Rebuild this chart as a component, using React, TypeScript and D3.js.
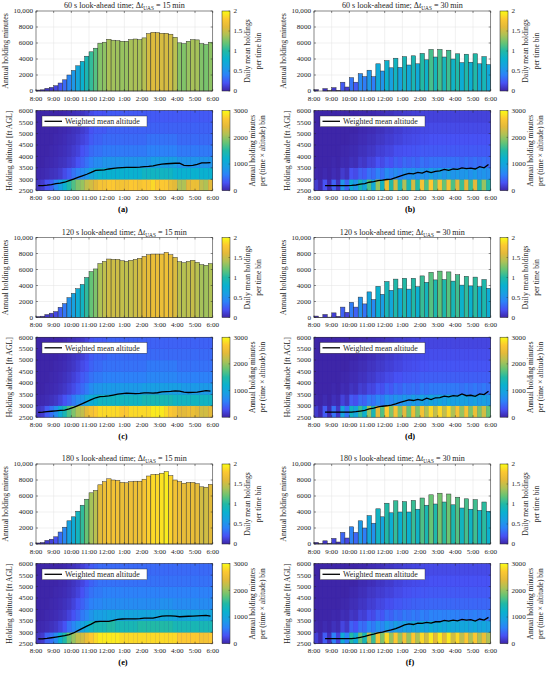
import * as d3 from 'd3';

// ---- shared axes values ----
const HOUR_LABELS = ['8:00', '9:00', '10:00', '11:00', '12:00', '1:00', '2:00', '3:00', '4:00', '5:00', '6:00'];
const BAR_TICKS = [0, 2000, 4000, 6000, 8000, 10000];
const ALT_TICKS = [2500, 3000, 3500, 4000, 4500, 5000, 5500, 6000];
const ALT_BINS = [2500, 3000, 3500, 4000, 4500, 5000, 5500];
const CB_BAR_TICKS = [0, 0.5, 1, 1.5, 2];
const CB_HEAT_TICKS = [0, 1000, 2000, 3000];
const HEAT_UNIT = 100; // heat arrays are in hundreds of minutes

// ---- annual holding minutes per 15 min bin ----
const BARS_A = [120, 150, 330, 450, 660, 1000, 1400, 2000, 2570, 3150, 3700, 4350, 4900, 5350, 5980, 6100, 6470, 6350, 6300, 6220, 6220, 6430, 6500, 6430, 6640, 7180, 7340, 7300, 7220, 7220, 7100, 6720, 6020, 5930, 6220, 6430, 6390, 5930, 5810, 6100];
const BARS_B = [170, 0, 300, 30, 420, 80, 1100, 500, 1670, 1100, 2170, 1800, 2600, 1800, 3400, 2500, 3800, 2900, 4100, 2950, 4300, 3250, 4400, 3400, 4700, 3900, 5200, 4250, 5200, 4250, 5100, 4000, 4650, 3550, 4600, 3600, 4650, 3400, 4300, 3300];
const BARS_C = [120, 165, 370, 540, 740, 1280, 1740, 2480, 3020, 3600, 4130, 5000, 5740, 6070, 6740, 7020, 7310, 7270, 7270, 7100, 7020, 7150, 7270, 7400, 7640, 7850, 7930, 7930, 7930, 8140, 7850, 7520, 6980, 6860, 7020, 7150, 6900, 6610, 6530, 6740];
const BARS_D = [180, 30, 380, 50, 580, 150, 1300, 650, 1900, 1300, 2550, 1700, 3200, 2250, 3900, 2900, 4500, 3400, 4800, 3600, 4900, 3550, 4900, 3850, 5200, 4400, 5650, 4700, 5800, 4750, 5700, 4550, 5350, 4050, 5150, 3950, 5050, 3850, 4750, 3650];
const BARS_E = [130, 180, 450, 600, 900, 1500, 2100, 2900, 3400, 4100, 4850, 5600, 6400, 6700, 7400, 7800, 8150, 8000, 7950, 7700, 7650, 7800, 7850, 7850, 8100, 8500, 8700, 8700, 8850, 9050, 8550, 8000, 7800, 7600, 7700, 7700, 7550, 7150, 7100, 7450];
const BARS_F = [200, 30, 400, 80, 700, 250, 1450, 750, 2150, 1450, 2900, 2000, 3550, 2600, 4400, 3400, 5100, 3900, 5400, 4000, 5300, 4000, 5450, 4350, 5750, 4850, 6150, 5000, 6350, 5250, 6250, 4900, 5850, 4500, 5650, 4350, 5550, 4200, 5250, 4100];

// annual minutes that correspond to one daily mean holding (bar colour)
const MIN_PER_HOLDING = [4650, 4700, 4800, 4900, 4650, 5100];

// ---- heat maps: rows from 2500 ft upwards, 40 time bins ----
const HEAT_A = [
  [1, 1.5, 3, 4, 6.5, 9, 12, 15, 17, 19, 20, 22, 23, 24, 26, 26, 27, 27, 26, 26, 26, 27, 27, 26, 27, 27, 28, 27, 27, 27, 25, 24, 21, 21, 24, 25, 25, 22, 21, 24],
  [0.2, 0.3, 0.5, 0.8, 1, 1.5, 2.5, 3.5, 5, 6, 7, 8, 10, 11, 12, 12, 12, 12, 12, 12, 12, 12, 12, 12, 13, 13, 13, 13, 13, 13, 13, 12, 12, 12, 12, 12, 12, 12, 12, 12],
  [0, 0, 0.2, 0.3, 0.5, 0.8, 1, 1.5, 2, 3, 4, 5, 6, 7, 7, 8, 8, 8, 8, 8, 8, 8, 8, 8, 8, 8, 9, 9, 9, 9, 9, 9, 8, 8, 8, 8, 8, 8, 8, 8],
  [0, 0, 0, 0.2, 0.3, 0.5, 0.7, 1, 1.5, 2, 3, 3.5, 4.5, 5, 5, 5.5, 5.5, 5.5, 5.5, 5.5, 5.5, 5.5, 5.5, 5.5, 5.5, 6, 6, 6, 6, 6, 6, 6, 5.5, 5.5, 5.5, 5.5, 5.5, 5.5, 5.5, 5.5],
  [0, 0, 0, 0, 0.2, 0.3, 0.5, 0.8, 1, 1.5, 2, 2.5, 3.5, 4, 4, 4.5, 4.5, 4.5, 4.5, 4.5, 4.5, 4.5, 4.5, 4.5, 4.5, 5, 5, 5, 5, 5, 5, 5, 4.5, 4.5, 4.5, 4.5, 4.5, 4.5, 4.5, 4.5],
  [0, 0, 0, 0, 0, 0.2, 0.3, 0.5, 0.8, 1, 1.5, 2, 3, 3.5, 3.5, 3.5, 4, 4, 4, 4, 4, 4, 4, 4, 4, 4, 4, 4, 4, 4, 4, 4, 4, 4, 4, 4, 4, 4, 4, 4],
  [0, 0, 0, 0, 0, 0, 0.2, 0.4, 0.6, 0.8, 1, 1.5, 2.5, 3, 3, 3, 3.5, 3.5, 3.5, 3.5, 3.5, 3.5, 3.5, 3.5, 3.5, 3.5, 3.5, 3.5, 3.5, 3.5, 3.5, 3.5, 3.5, 3.5, 3.5, 3.5, 3.5, 3.5, 3.5, 3.5],
];
const HEAT_B = [
  [1.5, 0.2, 3, 0.3, 4, 0.8, 8, 4, 11, 8, 14, 10, 17, 11, 20, 13, 25, 15, 23, 14, 21, 14, 23, 15, 26, 17, 27, 18, 26, 18, 26, 17, 24, 16, 24, 16, 24, 15, 20, 15],
  [0.2, 0, 0.3, 0, 0.5, 0.2, 1.5, 0.8, 3, 2.5, 4, 3.5, 5, 4.5, 6, 5, 7, 6, 7, 6, 7.5, 7, 8, 7, 8, 7.5, 9, 8, 9, 8, 9, 8, 8.5, 8, 8.5, 7.5, 8.5, 7.5, 8, 7.5],
  [0, 0, 0, 0, 0.2, 0, 0.4, 0.3, 0.8, 0.6, 1.5, 1.2, 2, 2, 3, 2.5, 3.5, 3, 4, 3.5, 4.5, 4, 4.5, 4, 5, 4.5, 5, 5, 5, 5, 5, 5, 5, 4.5, 5, 4.5, 5, 4.5, 5, 4.5],
  [0, 0, 0, 0, 0, 0, 0.2, 0.2, 0.4, 0.4, 0.8, 0.8, 1.2, 1.2, 1.8, 1.8, 2.2, 2.2, 2.8, 2.8, 3, 3, 3.2, 3.2, 3.5, 3.5, 3.5, 3.5, 3.5, 3.5, 3.5, 3.5, 3.5, 3.5, 3.5, 3.5, 3.5, 3.5, 3.5, 3.5],
  [0, 0, 0, 0, 0, 0, 0, 0, 0.2, 0.2, 0.5, 0.5, 0.8, 0.8, 1.2, 1.2, 1.6, 1.6, 2, 2, 2.4, 2.4, 2.6, 2.6, 2.8, 2.8, 3, 3, 3, 3, 3, 3, 3, 3, 3, 3, 3, 3, 3, 3],
  [0, 0, 0, 0, 0, 0, 0, 0, 0, 0, 0.3, 0.3, 0.5, 0.5, 0.8, 0.8, 1.2, 1.2, 1.6, 1.6, 2, 2, 2.2, 2.2, 2.4, 2.4, 2.5, 2.5, 2.5, 2.5, 2.5, 2.5, 2.5, 2.5, 2.5, 2.5, 2.5, 2.5, 2.5, 2.5],
  [0, 0, 0, 0, 0, 0, 0, 0, 0, 0, 0.2, 0.2, 0.3, 0.3, 0.5, 0.5, 0.8, 0.8, 1.2, 1.2, 1.5, 1.5, 1.8, 1.8, 2, 2, 2, 2, 2, 2, 2, 2, 2, 2, 2, 2, 2, 2, 2, 2],
];
const HEAT_C = [
  [1, 1.5, 3.5, 5, 7, 11, 14, 17, 19, 21, 22, 24, 26, 27, 28, 28, 28, 28, 28, 27, 27, 28, 28, 28, 28, 28, 29, 29, 29, 28, 27, 26, 24, 24, 25, 25, 24, 23, 23, 24],
  [0.2, 0.3, 0.5, 0.8, 1.2, 2, 3, 4, 5.5, 7, 8, 10, 11, 12, 13, 13, 13, 13, 13, 13, 13, 13, 13, 13, 14, 14, 14, 14, 14, 14, 14, 13, 13, 13, 13, 13, 13, 13, 13, 13],
  [0, 0, 0.2, 0.3, 0.5, 0.8, 1.2, 1.8, 2.5, 3.5, 4.5, 5.5, 7, 8, 8, 8.5, 8.5, 8.5, 8.5, 8.5, 8.5, 8.5, 8.5, 8.5, 9, 9, 9, 9, 9, 9, 9, 9, 9, 8.5, 8.5, 8.5, 8.5, 8.5, 8.5, 8.5],
  [0, 0, 0, 0.2, 0.3, 0.5, 0.8, 1.2, 1.8, 2.5, 3.5, 4, 5, 5.5, 5.5, 6, 6, 6, 6, 6, 6, 6, 6, 6, 6, 6.5, 6.5, 6.5, 6.5, 6.5, 6.5, 6.5, 6, 6, 6, 6, 6, 6, 6, 6],
  [0, 0, 0, 0, 0.2, 0.3, 0.5, 0.8, 1.2, 1.8, 2.5, 3, 4, 4.5, 4.5, 5, 5, 5, 5, 5, 5, 5, 5, 5, 5, 5.5, 5.5, 5.5, 5.5, 5.5, 5.5, 5.5, 5, 5, 5, 5, 5, 5, 5, 5],
  [0, 0, 0, 0, 0, 0.2, 0.3, 0.6, 1, 1.3, 1.8, 2.5, 3.5, 4, 4, 4, 4.5, 4.5, 4.5, 4.5, 4.5, 4.5, 4.5, 4.5, 4.5, 4.5, 4.5, 4.5, 4.5, 4.5, 4.5, 4.5, 4.5, 4.5, 4.5, 4.5, 4.5, 4.5, 4.5, 4.5],
  [0, 0, 0, 0, 0, 0, 0.2, 0.5, 0.7, 1, 1.3, 2, 3, 3.5, 3.5, 3.5, 4, 4, 4, 4, 4, 4, 4, 4, 4, 4, 4, 4, 4, 4, 4, 4, 4, 4, 4, 4, 4, 4, 4, 4],
];
const HEAT_D = [
  [1.5, 0.2, 3.5, 0.4, 5, 1.2, 10, 5, 13, 10, 16, 12, 20, 14, 24, 17, 27, 19, 26, 19, 24, 18, 25, 19, 26, 21, 28, 22, 28, 22, 28, 21, 26, 20, 26, 19, 25, 19, 23, 18],
  [0.2, 0, 0.4, 0, 0.7, 0.3, 2, 1, 3.5, 2.8, 4.5, 4, 5.5, 5, 6.5, 5.5, 7.5, 6.5, 8, 7, 8.5, 7.5, 9, 8, 9.5, 8.5, 10, 9, 10, 9, 10, 9, 9.5, 9, 9.5, 8.5, 9.5, 8.5, 9, 8.5],
  [0, 0, 0, 0, 0.2, 0, 0.5, 0.3, 1, 0.7, 1.7, 1.4, 2.3, 2.2, 3.3, 2.8, 4, 3.4, 4.5, 4, 5, 4.5, 5, 4.5, 5.5, 5, 5.5, 5.5, 5.5, 5.5, 5.5, 5.5, 5.5, 5, 5.5, 5, 5.5, 5, 5.5, 5],
  [0, 0, 0, 0, 0, 0, 0.2, 0.2, 0.5, 0.5, 0.9, 0.9, 1.4, 1.4, 2, 2, 2.5, 2.5, 3, 3, 3.3, 3.3, 3.5, 3.5, 3.8, 3.8, 3.8, 3.8, 3.8, 3.8, 3.8, 3.8, 3.8, 3.8, 3.8, 3.8, 3.8, 3.8, 3.8, 3.8],
  [0, 0, 0, 0, 0, 0, 0, 0, 0.3, 0.3, 0.6, 0.6, 1, 1, 1.4, 1.4, 1.8, 1.8, 2.2, 2.2, 2.6, 2.6, 2.8, 2.8, 3, 3, 3.2, 3.2, 3.2, 3.2, 3.2, 3.2, 3.2, 3.2, 3.2, 3.2, 3.2, 3.2, 3.2, 3.2],
  [0, 0, 0, 0, 0, 0, 0, 0, 0, 0, 0.3, 0.3, 0.6, 0.6, 1, 1, 1.4, 1.4, 1.8, 1.8, 2.2, 2.2, 2.4, 2.4, 2.6, 2.6, 2.7, 2.7, 2.7, 2.7, 2.7, 2.7, 2.7, 2.7, 2.7, 2.7, 2.7, 2.7, 2.7, 2.7],
  [0, 0, 0, 0, 0, 0, 0, 0, 0, 0, 0.2, 0.2, 0.4, 0.4, 0.6, 0.6, 1, 1, 1.4, 1.4, 1.7, 1.7, 2, 2, 2.2, 2.2, 2.2, 2.2, 2.2, 2.2, 2.2, 2.2, 2.2, 2.2, 2.2, 2.2, 2.2, 2.2, 2.2, 2.2],
];
const HEAT_E = [
  [1, 1.5, 4, 5, 7, 12, 15, 18, 20, 22, 23, 25, 27, 28, 29, 29, 29, 29, 29, 28, 28, 28, 28, 28, 28, 28, 28, 28, 28, 28, 28, 28, 27, 27, 27, 27, 27, 26, 26, 27],
  [0.2, 0.3, 0.5, 0.8, 1.2, 2, 3, 5, 6.5, 8, 9.5, 11, 13, 14, 14, 14, 15, 15, 14, 14, 14, 14, 14, 15, 15, 15, 15, 15, 15, 15, 15, 14, 14, 14, 14, 14, 14, 14, 14, 14],
  [0, 0, 0.2, 0.3, 0.5, 0.8, 1.2, 2, 3, 4, 5.5, 6.5, 8, 9, 9, 9.5, 10, 10, 10, 10, 10, 10, 10, 10, 10, 10, 10, 10, 10.5, 10.5, 10.5, 10, 10, 10, 10, 10, 10, 10, 10, 10],
  [0, 0, 0, 0.2, 0.3, 0.5, 0.8, 1.2, 2, 3, 4, 5, 6, 6.5, 6.5, 7, 7, 7, 7, 7, 7, 7, 7, 7, 7, 7, 7, 7, 7.5, 7.5, 7.5, 7, 7, 7, 7, 7, 7, 7, 7, 7],
  [0, 0, 0, 0, 0.2, 0.3, 0.5, 0.8, 1.3, 2, 3, 4, 5, 5.5, 5.5, 6, 6, 6, 6, 6, 6, 6, 6, 6, 6, 6, 6, 6, 6, 6, 6, 6, 6, 6, 6, 6, 6, 6, 6, 6],
  [0, 0, 0, 0, 0, 0.2, 0.3, 0.6, 1, 1.5, 2.2, 3, 4, 4.5, 5, 5, 5, 5, 5, 5, 5, 5, 5, 5, 5, 5, 5, 5, 5, 5, 5, 5, 5, 5, 5, 5, 5, 5, 5, 5],
  [0, 0, 0, 0, 0, 0, 0.2, 0.5, 0.8, 1.2, 1.8, 2.5, 3.5, 4, 4.5, 4.5, 4.5, 4.5, 4.5, 4.5, 4.5, 4.5, 4.5, 4.5, 4.5, 4.5, 4.5, 4.5, 4.5, 4.5, 4.5, 4.5, 4.5, 4.5, 4.5, 4.5, 4.5, 4.5, 4.5, 4.5],
];
const HEAT_F = [
  [1.8, 0.2, 3.7, 0.7, 6, 2, 11, 6, 15, 11, 18, 14, 22, 16, 26, 19, 28, 20, 27, 20, 26, 20, 27, 21, 28, 23, 29, 24, 29, 24, 29, 23, 28, 22, 27, 21, 27, 21, 25, 21],
  [0.2, 0, 0.4, 0.1, 0.8, 0.4, 2.2, 1.2, 4, 3, 5, 4.5, 6.5, 5.5, 7.5, 6.5, 8.5, 7.5, 9, 8, 9.5, 8.5, 10, 9, 10.5, 9.5, 11, 10, 11, 10, 11, 10, 10.5, 10, 10.5, 9.5, 10.5, 9.5, 10, 9.5],
  [0, 0, 0, 0, 0.2, 0.1, 0.6, 0.4, 1.2, 0.9, 2, 1.7, 2.8, 2.5, 3.8, 3.2, 4.5, 4, 5, 4.5, 5.5, 5, 5.7, 5.2, 6, 5.5, 6.2, 6, 6.2, 6, 6.2, 6, 6, 5.7, 6, 5.7, 6, 5.7, 6, 5.7],
  [0, 0, 0, 0, 0, 0, 0.2, 0.2, 0.6, 0.6, 1.1, 1.1, 1.7, 1.7, 2.3, 2.3, 2.8, 2.8, 3.3, 3.3, 3.7, 3.7, 4, 4, 4.2, 4.2, 4.3, 4.3, 4.3, 4.3, 4.3, 4.3, 4.3, 4.3, 4.3, 4.3, 4.3, 4.3, 4.3, 4.3],
  [0, 0, 0, 0, 0, 0, 0, 0, 0.3, 0.3, 0.7, 0.7, 1.2, 1.2, 1.6, 1.6, 2, 2, 2.5, 2.5, 2.9, 2.9, 3.2, 3.2, 3.4, 3.4, 3.5, 3.5, 3.5, 3.5, 3.5, 3.5, 3.5, 3.5, 3.5, 3.5, 3.5, 3.5, 3.5, 3.5],
  [0, 0, 0, 0, 0, 0, 0, 0, 0, 0, 0.4, 0.4, 0.7, 0.7, 1.1, 1.1, 1.5, 1.5, 2, 2, 2.4, 2.4, 2.6, 2.6, 2.8, 2.8, 3, 3, 3, 3, 3, 3, 3, 3, 3, 3, 3, 3, 3, 3],
  [0, 0, 0, 0, 0, 0, 0, 0, 0, 0, 0.2, 0.2, 0.5, 0.5, 0.7, 0.7, 1.1, 1.1, 1.5, 1.5, 1.9, 1.9, 2.2, 2.2, 2.4, 2.4, 2.5, 2.5, 2.5, 2.5, 2.5, 2.5, 2.5, 2.5, 2.5, 2.5, 2.5, 2.5, 2.5, 2.5],
];

// ---- weighted mean altitude [ft] per time bin ----
const ALT_A = [2720, 2720, 2740, 2770, 2810, 2830, 2870, 2940, 3010, 3080, 3150, 3220, 3300, 3390, 3400, 3410, 3450, 3480, 3500, 3510, 3520, 3520, 3520, 3530, 3550, 3560, 3590, 3630, 3660, 3680, 3690, 3700, 3700, 3610, 3600, 3610, 3650, 3720, 3720, 3730];
const ALT_B = [null, null, 2720, 2720, 2720, 2720, 2720, 2720, 2730, 2750, 2790, 2810, 2870, 2900, 2940, 2960, 2990, 3010, 3070, 3140, 3200, 3260, 3240, 3300, 3270, 3350, 3290, 3350, 3370, 3430, 3390, 3450, 3430, 3500, 3470, 3490, 3450, 3550, 3500, 3650];
const ALT_C = [2710, 2720, 2740, 2760, 2780, 2800, 2810, 2860, 2930, 3010, 3090, 3180, 3270, 3350, 3400, 3410, 3430, 3470, 3510, 3530, 3550, 3540, 3530, 3540, 3560, 3560, 3550, 3570, 3610, 3620, 3630, 3650, 3640, 3600, 3580, 3590, 3600, 3630, 3660, 3640];
const ALT_D = [null, null, 2720, 2720, 2720, 2720, 2720, 2720, 2720, 2740, 2770, 2800, 2860, 2900, 2950, 2980, 3000, 3030, 3080, 3150, 3200, 3260, 3230, 3280, 3240, 3330, 3270, 3350, 3360, 3420, 3390, 3440, 3420, 3520, 3440, 3460, 3410, 3520, 3490, 3640];
const ALT_E = [2710, 2710, 2730, 2760, 2790, 2820, 2850, 2900, 2970, 3070, 3170, 3270, 3360, 3460, 3480, 3480, 3480, 3520, 3560, 3580, 3590, 3590, 3590, 3600, 3620, 3620, 3620, 3660, 3710, 3720, 3720, 3710, 3680, 3690, 3700, 3710, 3720, 3730, 3740, 3710];
const ALT_F = [null, null, 2720, 2720, 2720, 2720, 2720, 2720, 2720, 2740, 2780, 2820, 2880, 2920, 2970, 3010, 3060, 3100, 3160, 3240, 3320, 3370, 3340, 3400, 3390, 3430, 3400, 3460, 3460, 3520, 3490, 3530, 3500, 3560, 3530, 3550, 3490, 3580, 3530, 3650];

const LOOK_AHEAD = [60, 60, 120, 120, 180, 180];
const DELTA_T = [15, 30, 15, 30, 15, 30];
const LABELS = ['(a)', '(b)', '(c)', '(d)', '(e)', '(f)'];

const PARULA = ['#3e26a8', '#4752f4', '#2d82f8', '#199fe3', '#0ab1cf', '#21b9a6', '#66c475', '#aec256', '#e3ba3a', '#fcc832', '#f9fb15'];
const parula = d3.piecewise(d3.interpolateRgb, PARULA);

const FONT = '"Liberation Serif", "DejaVu Serif", serif';
const INK = '#262626';
const TICK_FS = 7.1;
const LABEL_FS = 7.8;

const panels = [
  { bars: BARS_A, heat: HEAT_A, alt: ALT_A },
  { bars: BARS_B, heat: HEAT_B, alt: ALT_B },
  { bars: BARS_C, heat: HEAT_C, alt: ALT_C },
  { bars: BARS_D, heat: HEAT_D, alt: ALT_D },
  { bars: BARS_E, heat: HEAT_E, alt: ALT_E },
  { bars: BARS_F, heat: HEAT_F, alt: ALT_F },
];

const Panel = ({ idx }: { idx: number }) => {
  const { bars, heat, alt } = panels[idx];
  const col = idx % 2;
  const row = Math.floor(idx / 2);
  const cx = col * 278;
  const ry = row * 226.5;
  const left = 36 + cx;
  const right = 212.7 + cx;
  const barTop = 11 + ry;
  const barBot = 91 + ry;
  const heatTop = 110.7 + ry;
  const heatBot = 190.7 + ry;
  const cbL = 222 + cx;
  const cbR = 230 + cx;
  const n = bars.length;

  const x = d3.scaleLinear().domain([0, n]).range([left, right]);
  const yBar = d3.scaleLinear().domain([0, 10000]).range([barBot, barTop]);
  const yAlt = d3.scaleLinear().domain([2500, 6000]).range([heatBot, heatTop]);
  const cbBar = d3.scaleLinear().domain([0, 2]).range([barBot, barTop]);
  const cbHeat = d3.scaleLinear().domain([0, 3000]).range([heatBot, heatTop]);
  const k = MIN_PER_HOLDING[idx];

  const line = d3
    .line<number | null>()
    .defined((d) => d != null)
    .x((_, i) => x(i + 0.5))
    .y((d) => yAlt(d as number));

  const hourX = HOUR_LABELS.map((_, i) => x(i * 4));
  const midX = (left + right) / 2;

  const xTicks = (top: number, bot: number) => (
    <g>
      {hourX.map((hx, i) => (
        <g key={i}>
          <line x1={hx} x2={hx} y1={bot} y2={bot - 2} stroke={INK} strokeWidth={0.5} />
          <line x1={hx} x2={hx} y1={top} y2={top + 2} stroke={INK} strokeWidth={0.5} />
          <text x={hx} y={bot + 9.7} fontSize={TICK_FS} textAnchor="middle" fill={INK}>
            {HOUR_LABELS[i]}
          </text>
        </g>
      ))}
    </g>
  );

  return (
    <g fontFamily={FONT}>
      {/* ---------- bar chart ---------- */}
      <rect x={left} y={barTop} width={right - left} height={barBot - barTop} fill="#fff" />
      {hourX.map((hx, i) => (
        <line key={'gx' + i} x1={hx} x2={hx} y1={barTop} y2={barBot} stroke="#e3e3e3" strokeWidth={0.5} />
      ))}
      {BAR_TICKS.map((t) => (
        <line key={'gy' + t} x1={left} x2={right} y1={yBar(t)} y2={yBar(t)} stroke="#e3e3e3" strokeWidth={0.5} />
      ))}
      {bars.map((v, i) => (
        <rect
          key={'b' + i}
          x={x(i)}
          width={x(i + 1) - x(i)}
          y={yBar(v)}
          height={yBar(0) - yBar(v)}
          fill={parula(Math.min(1, v / k / 2))}
          stroke="#2a2a2a"
          strokeWidth={0.45}
        />
      ))}
      <rect x={left} y={barTop} width={right - left} height={barBot - barTop} fill="none" stroke={INK} strokeWidth={0.5} />
      {xTicks(barTop, barBot)}
      {BAR_TICKS.map((t) => (
        <g key={'yt' + t}>
          <line x1={left} x2={left + 2} y1={yBar(t)} y2={yBar(t)} stroke={INK} strokeWidth={0.5} />
          <line x1={right} x2={right - 2} y1={yBar(t)} y2={yBar(t)} stroke={INK} strokeWidth={0.5} />
          <text x={left - 3} y={yBar(t) + 2.4} fontSize={TICK_FS} textAnchor="end" fill={INK}>
            {t === 10000 ? '10,000' : String(t)}
          </text>
        </g>
      ))}
      <text
        transform={`translate(${left - 28.5},${(barTop + barBot) / 2}) rotate(-90)`}
        fontSize={LABEL_FS}
        textAnchor="middle"
        fill={INK}
      >
        Annual holding minutes
      </text>
      <text x={midX} y={barTop - 2.6} fontSize={8.1} textAnchor="middle" fill={INK}>
        {`${LOOK_AHEAD[idx]} s look-ahead time; Δ`}
        <tspan fontStyle="italic">t</tspan>
        <tspan dy={1.6} fontSize={5.3}>UAS</tspan>
        <tspan dy={-1.6}>{` = ${DELTA_T[idx]}\u2009min`}</tspan>
      </text>

      {/* bar colour bar */}
      <rect x={cbL} y={barTop} width={cbR - cbL} height={barBot - barTop} fill="url(#parulaGrad)" stroke={INK} strokeWidth={0.5} />
      {CB_BAR_TICKS.map((t) => (
        <g key={'cb' + t}>
          <line x1={cbR} x2={cbR - 1.5} y1={cbBar(t)} y2={cbBar(t)} stroke={INK} strokeWidth={0.4} />
          <text x={cbR + 3.5} y={cbBar(t) + 2.4} fontSize={TICK_FS} fill={INK}>
            {t}
          </text>
        </g>
      ))}
      <text transform={`translate(${cbR + 20},${(barTop + barBot) / 2}) rotate(-90)`} fontSize={7.6} textAnchor="middle" fill={INK}>
        Daily mean holdings
      </text>
      <text transform={`translate(${cbR + 30.5},${(barTop + barBot) / 2}) rotate(-90)`} fontSize={7.6} textAnchor="middle" fill={INK}>
        per time bin
      </text>

      {/* ---------- heat map ---------- */}
      <rect x={left} y={heatTop} width={right - left} height={heatBot - heatTop} fill={parula(0)} />
      {heat.map((rowVals, r) =>
        rowVals.map((v, i) => {
          const c = parula(Math.min(1, (v * HEAT_UNIT) / 3000));
          return (
            <rect
              key={'h' + r + '-' + i}
              x={x(i)}
              width={x(i + 1) - x(i)}
              y={yAlt(ALT_BINS[r] + 500)}
              height={yAlt(ALT_BINS[r]) - yAlt(ALT_BINS[r] + 500)}
              fill={c}
              stroke={c}
              strokeWidth={0.3}
            />
          );
        }),
      )}
      <path d={line(alt) ?? ''} fill="none" stroke="#000" strokeWidth={1.3} />
      <rect x={left} y={heatTop} width={right - left} height={heatBot - heatTop} fill="none" stroke={INK} strokeWidth={0.5} />
      {xTicks(heatTop, heatBot)}
      {ALT_TICKS.map((t) => (
        <g key={'at' + t}>
          <line x1={left} x2={left + 2} y1={yAlt(t)} y2={yAlt(t)} stroke={INK} strokeWidth={0.5} />
          <line x1={right} x2={right - 2} y1={yAlt(t)} y2={yAlt(t)} stroke={INK} strokeWidth={0.5} />
          <text x={left - 3} y={yAlt(t) + 2.4} fontSize={TICK_FS} textAnchor="end" fill={INK}>
            {t}
          </text>
        </g>
      ))}
      <text
        transform={`translate(${left - 24.5},${(heatTop + heatBot) / 2}) rotate(-90)`}
        fontSize={LABEL_FS}
        textAnchor="middle"
        fill={INK}
      >
        Holding altitude [ft AGL]
      </text>

      {/* legend */}
      <rect x={left + 6} y={heatTop + 5.3} width={105} height={10.7} fill="#fff" stroke={INK} strokeWidth={0.4} />
      <line x1={left + 8.5} x2={left + 26} y1={heatTop + 10.6} y2={heatTop + 10.6} stroke="#000" strokeWidth={1.3} />
      <text x={left + 29} y={heatTop + 13.3} fontSize={7.9} fill={INK}>
        Weighted mean altitude
      </text>

      {/* heat colour bar */}
      <rect x={cbL} y={heatTop} width={cbR - cbL} height={heatBot - heatTop} fill="url(#parulaGrad)" stroke={INK} strokeWidth={0.5} />
      {CB_HEAT_TICKS.map((t) => (
        <g key={'ch' + t}>
          <line x1={cbR} x2={cbR - 1.5} y1={cbHeat(t)} y2={cbHeat(t)} stroke={INK} strokeWidth={0.4} />
          <text x={cbR + 3.5} y={cbHeat(t) + 2.4} fontSize={TICK_FS} fill={INK}>
            {t}
          </text>
        </g>
      ))}
      <text transform={`translate(${cbR + 24.5},${(heatTop + heatBot) / 2}) rotate(-90)`} fontSize={7.4} textAnchor="middle" fill={INK}>
        Annual holding minutes
      </text>
      <text transform={`translate(${cbR + 34.5},${(heatTop + heatBot) / 2}) rotate(-90)`} fontSize={7.4} textAnchor="middle" fill={INK}>
        {'per (time × altitude) bin'}
      </text>

      <text x={col === 0 ? 123 : 410} y={heatBot + 21.5} fontSize={8.4} fontWeight="bold" textAnchor="middle" fill="#000">
        {LABELS[idx]}
      </text>
    </g>
  );
};

const App = () => {
  const stops = d3.range(0, 1.0001, 0.05);
  return (
    <svg
      width={550}
      height={673}
      viewBox="0 0 550 673"
      style={{ position: 'absolute', left: 0, top: 0, background: '#fff' }}
    >
      <defs>
        <linearGradient id="parulaGrad" x1="0" y1="1" x2="0" y2="0">
          {stops.map((s) => (
            <stop key={s} offset={s} stopColor={parula(s)} />
          ))}
        </linearGradient>
      </defs>
      <rect width={550} height={673} fill="#fff" />
      {panels.map((_, i) => (
        <Panel key={i} idx={i} />
      ))}
    </svg>
  );
};

export default App;
